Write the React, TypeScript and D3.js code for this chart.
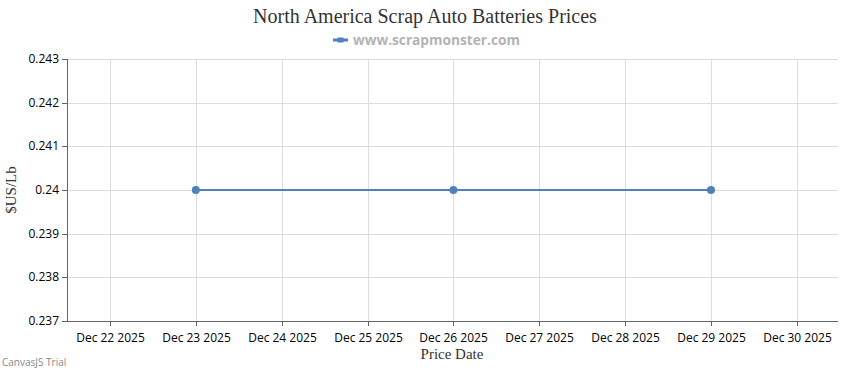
import React from "react";
import * as d3 from "d3";

const tickDates = ["2025-12-22","2025-12-23","2025-12-24","2025-12-25","2025-12-26","2025-12-27","2025-12-28","2025-12-29","2025-12-30"];
const priceDates = ["2025-12-23","2025-12-26","2025-12-29"];
const priceValues = [0.24, 0.24, 0.24];
const yTicks = [0.237, 0.238, 0.239, 0.24, 0.241, 0.242, 0.243];

const W = 850, H = 370;
const left = 67, right = 838, top = 59, bottom = 321;
const parse = (s: string) => new Date(s + "T00:00:00");
const fmt = d3.timeFormat("%b %d %Y");

export default function App() {
  const x = d3.scaleTime()
    .domain([new Date(parse("2025-12-22").getTime() - 12 * 3600e3), new Date(parse("2025-12-30").getTime() + 11.5 * 3600e3)])
    .range([left, right]);
  const y = d3.scaleLinear().domain([0.237, 0.243]).range([bottom, top]);
  const pts = priceDates.map((d, i) => [x(parse(d)), y(priceValues[i])] as [number, number]);
  const line = d3.line()(pts) || "";
  const sans = "'Segoe UI', 'Open Sans', 'DejaVu Sans', sans-serif";
  const serif = "'Liberation Serif', 'Times New Roman', serif";
  return (
    <svg width={W} height={H} style={{ position: "absolute", left: 0, top: 0, background: "#fff" }}>
      <text x={425} y={23} textAnchor="middle" fontFamily={serif} fontSize={20} fill="#333">North America Scrap Auto Batteries Prices</text>
      <g>
        <line x1={333} x2={348} y1={40} y2={40} stroke="#4f81bc" strokeWidth={3} />
        <rect x={337.5} y={37.5} width={6} height={5} fill="#4f81bc" />
        <text x={353} y={45} fontFamily={sans} fontSize={13.7} fontWeight="bold" fill="#b3b3b3">www.scrapmonster.com</text>
      </g>
      {yTicks.map((t) => (
        <g key={t}>
          <line x1={left} x2={right} y1={Math.round(y(t)) + 0.5} y2={Math.round(y(t)) + 0.5} stroke="#dcdcdc" strokeWidth={1} />
          <line x1={left - 5} x2={left} y1={Math.round(y(t)) + 0.5} y2={Math.round(y(t)) + 0.5} stroke="#666" strokeWidth={1} />
          <text x={left - 8} y={y(t) + 4} textAnchor="end" fontFamily={sans} fontSize={12} fill="#000">{d3.format("")(t)}</text>
        </g>
      ))}
      {tickDates.map((d) => {
        const px = Math.round(x(parse(d))) + 0.5;
        return (
          <g key={d}>
            <line x1={px} x2={px} y1={top} y2={bottom} stroke="#dcdcdc" strokeWidth={1} />
            <line x1={px} x2={px} y1={bottom} y2={bottom + 5} stroke="#666" strokeWidth={1} />
            <text x={px} y={342} textAnchor="middle" fontFamily={sans} fontSize={12} fill="#000">{fmt(parse(d))}</text>
          </g>
        );
      })}
      <line x1={left + 0.5} x2={left + 0.5} y1={top} y2={bottom} stroke="#666" strokeWidth={1} />
      <line x1={left} x2={right} y1={bottom + 0.5} y2={bottom + 0.5} stroke="#666" strokeWidth={1} />
      <path d={line} fill="none" stroke="#4f81bc" strokeWidth={2} />
      {pts.map((p, i) => (
        <circle key={i} cx={p[0]} cy={p[1]} r={4} fill="#4f81bc" />
      ))}
      <text x={452} y={359} textAnchor="middle" fontFamily={serif} fontSize={15} fill="#333">Price Date</text>
      <text transform={`translate(16,${y(0.24)}) rotate(-90)`} textAnchor="middle" fontFamily={serif} fontSize={15} fill="#333">$US/Lb</text>
      <text x={2} y={366} fontFamily={sans} fontSize={10} fill="#888">CanvasJS Trial</text>
    </svg>
  );
}
